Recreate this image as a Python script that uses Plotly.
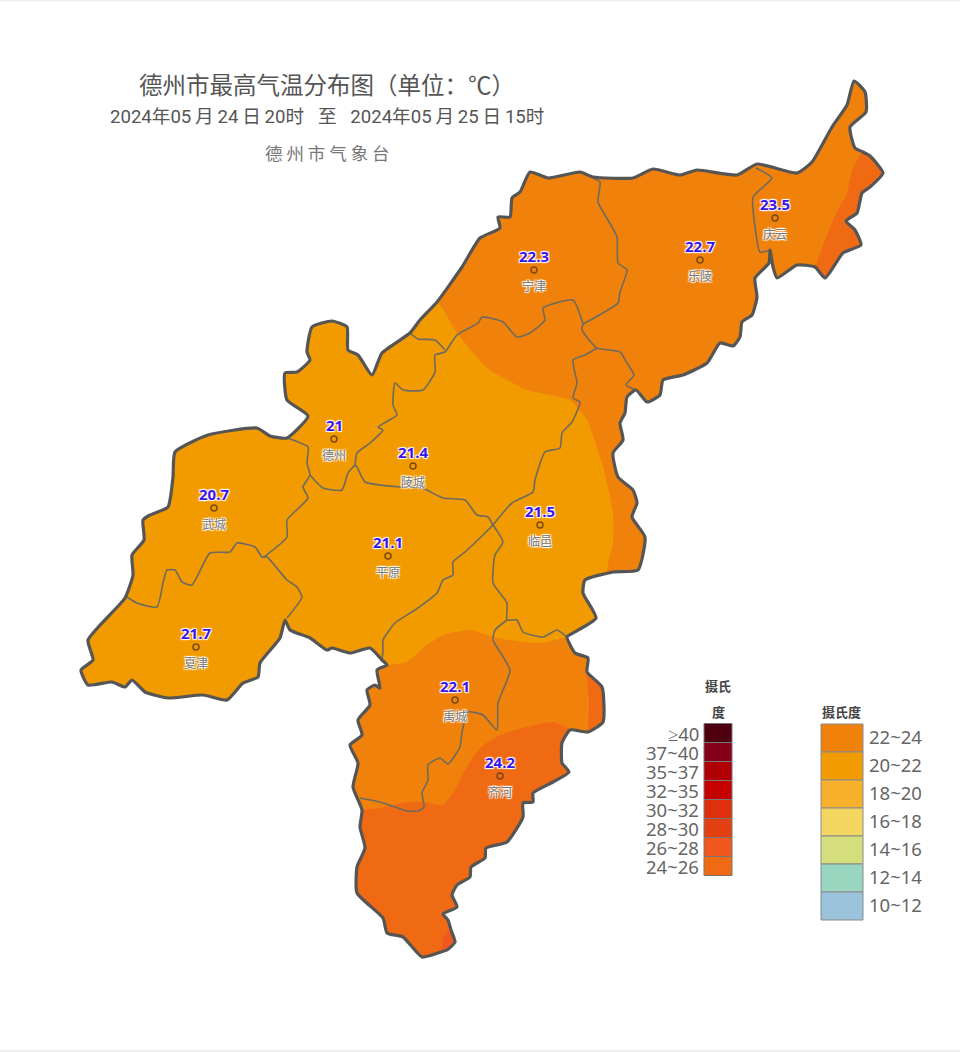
#德州市最高气温分布图
import plotly.graph_objects as go

#县界外轮廓 (顺时针, 从东北角开始)
boundary = [(854,81),(865,92),(866,112),(850,127),(855,148),(863,152),(870,156),(883,173),(870,187),(862,193),
(857,213),(846,221),(855,230),(861,245),(843,253),(825,278),(815,267),(797,265),(777,278),(773,267),(770,250),
(769,263),(755,278),(757,297),(752,315),(742,322),(740,337),(733,346),(720,343),(707,363),(683,375),(663,380),
(660,395),(647,402),(636,390),(627,397),(625,413),(620,423),(623,440),(613,453),(618,477),(633,490),(637,503),
(632,517),(645,537),(638,570),(613,572),(585,580),(583,593),(596,618),(573,633),(567,637),(575,653),(588,658),
(587,672),(602,687),(603,722),(588,732),(570,730),(562,743),(562,763),(569,772),(553,782),(533,793),(533,802),
(523,803),(523,817),(507,842),(486,848),(485,858),(471,867),(470,877),(457,885),(452,895),(457,907),(443,914),
(448,920),(451,930),(455,942),(447,950),(441,952),(422,957),(403,937),(387,933),(383,918),(357,893),(357,867),
(365,848),(360,827),(362,810),(353,787),(358,763),(350,745),(362,735),(358,720),(370,705),(367,690),(375,685),
(380,688),(377,670),(387,665),(382,660),(370,648),(350,653),(332,648),(327,650),(310,638),(290,630),(285,620),
(280,638),(260,663),(258,677),(243,683),(227,700),(203,695),(168,698),(145,692),(132,680),(125,687),(112,682),
(88,685),(81,670),(93,660),(88,640),(125,598),(133,575),(132,555),(144,540),(143,520),(150,515),(168,507),
(173,477),(175,452),(208,435),(257,428),(270,436),(287,438),(308,416),(287,400),(285,373),(297,372),(310,360),
(307,352),(312,327),(332,321),(347,327),(348,350),(358,355),(372,375),(382,353),(410,333),(420,320),(437,302),
(462,267),(480,238),(500,228),(498,217),(510,217),(512,198),(520,192),(530,172),(548,178),(580,172),(593,177),
(633,178),(653,169),(680,175),(697,170),(737,175),(757,164),(797,173),(812,162),(832,127),(847,105)]

#等值线
band20_north = [(437,302),(457,333),(487,368),(527,390),(570,400),(587,420),(603,467),(613,513),(613,543),(607,572)]
band20_south = [(567,637),(540,643),(497,638),(470,630),(443,635),(423,648),(407,662),(387,665)]
band24_ne = [(815,267),(833,220),(847,193),(853,167),(863,152)]
band24_east = [(588,732),(589,700),(587,672)]
band24_south = [(362,810),(380,808),(407,802),(423,802),(443,805),(453,793),(465,770),(480,748),(500,735),(527,727),(553,722),(570,730)]
band26_tip = [(441,952),(443,940),(445,934),(451,930)]

#区县界
counties = [
    [(593,178),(600,182),(598,202),(608,220),(617,237),(618,263),(627,270),(620,292),(618,303),(583,324)],
    [(756,168),(772,178),(753,197),(755,227),(760,252),(770,250)],
    [(583,324),(573,300),(543,308),(545,320),(530,333),(517,337),(503,322),(482,317),(478,323),(457,335),(445,352),
     (435,355),(435,372),(423,390),(403,390),(395,383),(393,405),(397,415),(378,427),(383,430),(370,443),(357,453),(355,465)],
    [(445,350),(435,340),(418,339),(410,333)],
    [(583,324),(582,330),(597,348),(620,352),(627,363),(634,375),(626,385),(636,390)],
    [(597,348),(585,355),(573,360),(577,383),(573,398),(580,402),(572,422),(562,433),(560,448),(545,452),(535,480),
     (533,492),(512,503),(493,525)],
    [(355,465),(357,467),(365,482),(400,487),(422,488),(443,498),(465,500),(477,515),(488,517),(493,525)],
    [(493,525),(483,535),(465,552),(453,562),(453,575),(443,580),(437,593),(415,610),(395,623),(383,640),(383,650),(382,660)],
    [(493,525),(503,542),(495,555),(493,583),(507,603),(507,620),(517,620),(523,632),(543,637),(557,630),(567,637)],
    [(507,620),(495,630),(493,640),(510,670),(498,703),(497,730),(483,715),(468,712),(462,732),(460,747),(448,764),
     (440,758),(428,765),(428,780),(422,793),(424,807),(418,811),(407,811),(380,802),(360,798)],
    [(355,465),(348,473),(342,490),(323,488),(310,475)],
    [(287,438),(308,447),(307,463),(310,475),(303,487),(308,498),(287,520),(287,537),(264,557)],
    [(127,597),(137,603),(157,607),(163,583),(167,570),(175,570),(182,582),(192,585),(210,553),(230,552),(237,543),
     (255,547),(262,557),(267,557),(287,580),(297,587),(302,597),(287,618)],
]

#站点
station_names = ["宁津","乐陵","庆云","德州","陵城","武城","平原","临邑","夏津","禹城","齐河"]
station_values = ["22.3","22.7","23.5","21","21.4","20.7","21.1","21.5","21.7","22.1","24.2"]
station_x = [534,700,775,334,413,214,388,540,196,455,500]
station_y = [270,260,218,439,466,508,556,525,647,700,776]

#图例
legend_left_labels = ["≥40","37~40","35~37","32~35","30~32","28~30","26~28","24~26"]
legend_left_colors = ["#4f0010","#850019","#b00005","#c40000","#de300f","#e24010","#f0581e","#f06a14"]
legend_right_labels = ["22~24","20~22","18~20","16~18","14~16","12~14","10~12"]
legend_right_colors = ["#f0820c","#f29b00","#f7b02c","#f3d65f","#d5de7d","#99d6c0","#9cc3dc"]

c22 = "#f0820c"
c20 = "#f29b00"
c24 = "#f06a14"
c26 = "#f0581e"
halo = "1px 1px 1px #fff, -1px -1px 1px #fff, 1px -1px 1px #fff, -1px 1px 1px #fff"
cjk = "Noto Sans CJK SC"
smooth = dict(shape="spline", smoothing=0.5)
ts = "\u2009"
gap = "\u00a0\u00a0\u00a0"


def arc(start, end):
    return boundary[boundary.index(start):boundary.index(end)+1]


def add_area(fig, pts, color):
    fig.add_trace(go.Scatter(x=[p[0] for p in pts], y=[p[1] for p in pts], mode="lines", fill="toself",
                             fillcolor=color, line=dict(width=0, **smooth), hoverinfo="skip"))


def add_text(fig, x, y, text, size, color="#555555", family=cjk, anchor="center", yshift=0, shadow=None):
    font = dict(size=size, color=color, family=family)
    if shadow:
        font["shadow"] = shadow
    fig.add_annotation(x=x, y=y, text=text, showarrow=False, xanchor=anchor, yanchor="middle", yshift=yshift, font=font)


def stamp(month, day, hour):
    return "2024年"+month+ts+"月"+ts+day+ts+"日"+ts+hour+"时"


fig = go.Figure()

#填色
add_area(fig, boundary, c22)
add_area(fig, band20_north + arc((613,572),(567,637)) + band20_south + arc((387,665),(437,302)), c20)
add_area(fig, arc((863,152),(815,267)) + band24_ne, c24)
add_area(fig, arc((587,672),(588,732)) + band24_east, c24)
add_area(fig, arc((570,730),(362,810)) + band24_south, c24)
add_area(fig, arc((451,930),(441,952)) + band26_tip, c26)

#界线
for line in counties:
    fig.add_trace(go.Scatter(x=[p[0] for p in line], y=[p[1] for p in line], mode="lines",
                             line=dict(color="#6e6a5e", width=1.6, **smooth), hoverinfo="skip"))
closed = boundary + boundary[:1]
fig.add_trace(go.Scatter(x=[p[0] for p in closed], y=[p[1] for p in closed], mode="lines",
                         line=dict(color="#555555", width=3.2, **smooth), hoverinfo="skip"))

#站点
fig.add_trace(go.Scatter(x=station_x, y=station_y, mode="markers", hoverinfo="skip",
                         marker=dict(size=6, color="rgba(0,0,0,0)", line=dict(color="#7a4a10", width=1.5))))
for name, value, x, y in zip(station_names, station_values, station_x, station_y):
    add_text(fig, x, y, "<b>"+value+"</b>", 15, "#3a12f0", "Open Sans", yshift=14, shadow=halo)
    add_text(fig, x, y, name, 12, "#777777", yshift=-15, shadow=halo)

#图例色块
for i, color in enumerate(legend_left_colors):
    top = 723.5 + i*19
    fig.add_shape(type="rect", x0=704, x1=732, y0=top, y1=top+19, fillcolor=color, line=dict(color="#777777", width=1))
    add_text(fig, 701, top+9.5, legend_left_labels[i], 18.5, "#666666", "Noto Sans", anchor="right")
for i, color in enumerate(legend_right_colors):
    top = 724 + i*28
    fig.add_shape(type="rect", x0=821, x1=863, y0=top, y1=top+28, fillcolor=color, line=dict(color="#8a8a8a", width=1))
    add_text(fig, 867, top+12.5, legend_right_labels[i], 18.5, "#666666", "Noto Sans", anchor="left")
add_text(fig, 718, 685, "<b>摄氏</b>", 13, "#444444")
add_text(fig, 718, 711, "<b>度</b>", 13, "#444444")
add_text(fig, 841, 711, "<b>摄氏度</b>", 13, "#444444")

#标题
add_text(fig, 326.5, 84, "德州市最高气温分布图（单位：℃）", 23.5)
add_text(fig, 326.5, 117, stamp("05","24","20")+gap+"至"+gap+stamp("05","25","15"), 18.6, family="Roboto, "+cjk)
add_text(fig, 327, 152, "德 州 市 气 象 台", 17.5, "#777777")

#页面上下的浅灰边
fig.add_hline(y=0.5, line=dict(color="#eeeeee", width=2))
fig.add_hline(y=1051, line=dict(color="#eeeeee", width=2))

fig.update_xaxes(range=[0,960], visible=False, fixedrange=True)
fig.update_yaxes(range=[1052,0], visible=False, fixedrange=True)
fig.update_layout(width=960, height=1052, margin=dict(l=0,r=0,t=0,b=0), showlegend=False,
                  paper_bgcolor="white", plot_bgcolor="white", hovermode=False)

fig.write_html("out.html", config=dict(displayModeBar=False),
               post_script="document.body.style.margin='0';document.body.style.overflow='hidden';")
